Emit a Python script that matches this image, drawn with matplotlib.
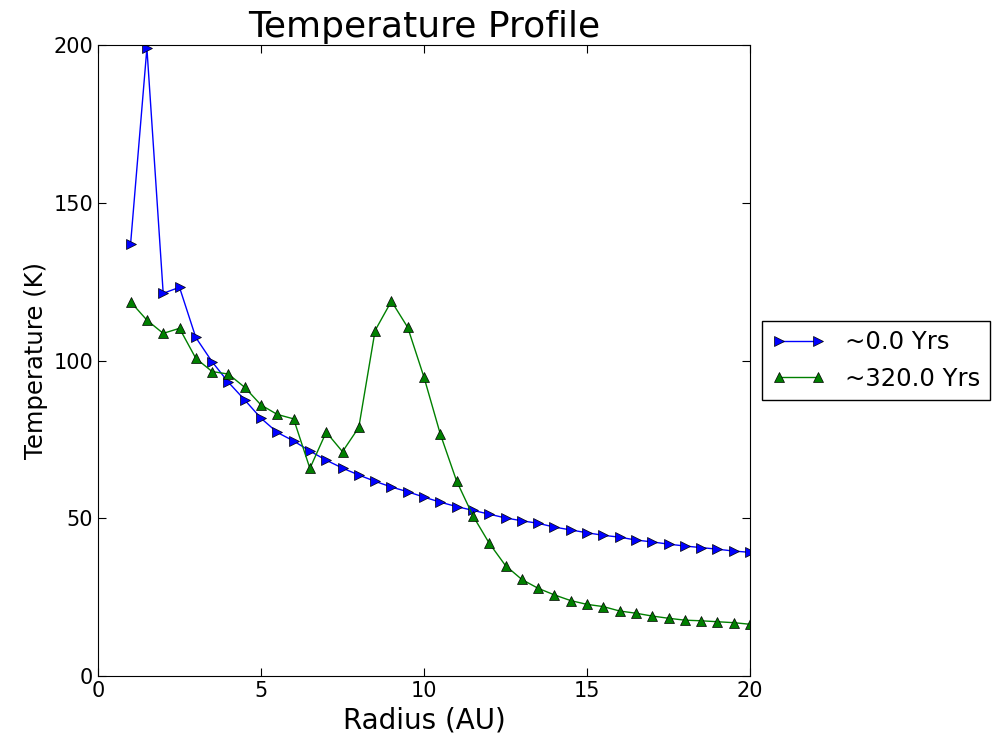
import matplotlib
matplotlib.use('Agg')
import matplotlib.pyplot as plt

# Radius grid (AU)
radius = [1.0, 1.5, 2.0, 2.5, 3.0, 3.5, 4.0, 4.5, 5.0, 5.5, 6.0, 6.5, 7.0, 7.5,
          8.0, 8.5, 9.0, 9.5, 10.0, 10.5, 11.0, 11.5, 12.0, 12.5, 13.0, 13.5,
          14.0, 14.5, 15.0, 15.5, 16.0, 16.5, 17.0, 17.5, 18.0, 18.5, 19.0,
          19.5, 20.0]

# Temperature at ~0 yrs
temp_0 = [137.0, 199.0, 121.3, 123.2, 107.3, 99.6, 93.1, 87.5, 81.7, 77.2,
          74.5, 71.3, 68.4, 65.9, 63.7, 61.7, 59.9, 58.4, 56.7, 55.1, 53.7,
          52.5, 51.3, 50.1, 49.2, 48.4, 47.2, 46.3, 45.4, 44.6, 44.0, 43.1,
          42.5, 41.8, 41.2, 40.7, 40.2, 39.6, 39.2]

# Temperature at ~320 yrs
temp_320 = [118.6, 112.8, 108.6, 110.2, 100.7, 96.5, 95.7, 91.5, 85.9, 82.9,
            81.5, 65.8, 77.3, 71.1, 78.8, 109.5, 118.8, 110.5, 94.7, 76.7,
            61.8, 50.8, 42.1, 35.0, 30.6, 27.8, 25.7, 23.9, 22.7, 22.0, 20.6,
            19.9, 19.0, 18.3, 17.7, 17.5, 17.2, 16.9, 16.4]

labels = ['~0.0 Yrs', '~320.0 Yrs']

fig = plt.figure(figsize=(10, 7.44), dpi=100)
ax = fig.add_axes([0.098, 0.0914, 0.652, 0.8481])

ax.plot(radius, temp_0, color='b', marker='>', markersize=7.5, markeredgewidth=0.5,
        markeredgecolor='k', linewidth=1.0, label=labels[0])
ax.plot(radius, temp_320, color=(0, 0.5, 0), marker='^', markersize=7.5,
        markeredgewidth=0.5, markeredgecolor='k', linewidth=1.0, label=labels[1])

ax.set_xlim(0, 20)
ax.set_ylim(0, 200)
ax.set_xticks([0, 5, 10, 15, 20])
ax.set_yticks([0, 50, 100, 150, 200])
ax.tick_params(direction='in', top=True, right=True, labelsize=15, length=6)

ax.set_title('Temperature Profile', fontsize=26)
ax.set_xlabel('Radius (AU)', fontsize=20)
ax.set_ylabel('Temperature (K)', fontsize=17.5)

ax.legend(loc='center left', bbox_to_anchor=(1.0, 0.5), numpoints=2,
          fancybox=False, edgecolor='k', fontsize=17.5, framealpha=1,
          handlelength=2.2)

fig.savefig('out.png', dpi=100)
